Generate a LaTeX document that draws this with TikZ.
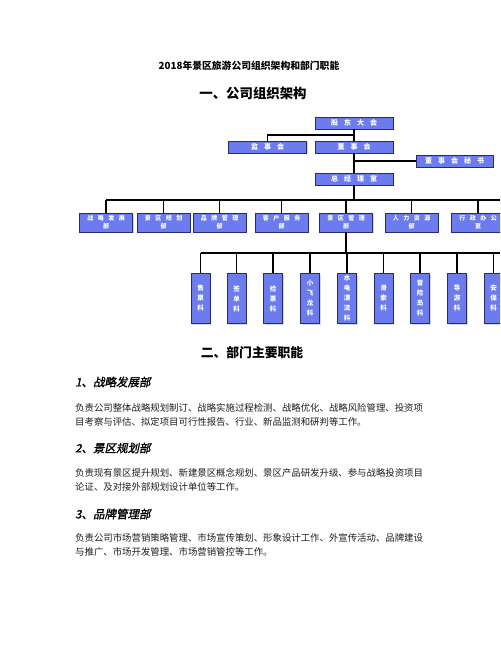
\documentclass[tikz,border=0pt]{standalone}
\usepackage{fontspec}
\setmainfont{Noto Sans CJK SC}
\newfontfamily\headfont[FakeSlant=0.2,FakeBold=1.5]{Noto Sans CJK SC}
\usetikzlibrary{shadows}
\definecolor{boxblue}{RGB}{108,124,238}
\definecolor{boxline}{RGB}{40,44,110}
\definecolor{bodytext}{RGB}{30,30,30}
\newcommand\topgap{\hspace{6pt}}
\newcommand\deptgap{\hspace{4.5pt}}
\begin{document}
\begin{tikzpicture}[x=1pt,y=-1pt,
  orgbox/.style={draw=boxline, fill=boxblue, line width=0.9pt, text=white, inner sep=0pt,
    drop shadow={shadow xshift=1pt,shadow yshift=-1pt,fill=black!30}},
  topbox/.style={orgbox, minimum width=78pt, minimum height=12pt, font=\bfseries\fontsize{7}{8}\selectfont},
  deptbox/.style={orgbox, minimum width=53pt, minimum height=19pt, align=center, font=\bfseries\fontsize{6}{8}\selectfont},
  subbox/.style={orgbox, minimum width=19pt, minimum height=50pt, align=center, font=\bfseries\fontsize{6.5}{10}\selectfont},
  link/.style={line width=1.3pt, black},
  bodyline/.style={anchor=west, inner sep=0pt, text=bodytext, font=\fontsize{9.4}{11}\selectfont},
  headline/.style={anchor=west, inner sep=0pt, text=black, font=\headfont\fontsize{11.5}{13}\selectfont}]
\useasboundingbox (0,0) rectangle (500,647);
\clip (0,0) rectangle (500,647);
\fill[white] (0,0) rectangle (500,647);

% titles
\node[font=\bfseries\fontsize{9.8}{11}\selectfont] (title) at (249,66) {2018年景区旅游公司组织架构和部门职能};
\node[font=\bfseries\fontsize{13.4}{15}\selectfont] (sec1) at (253,93) {一、公司组织架构};

% top level
\node[topbox] (gd) at (354,123) {股\topgap 东\topgap 大\topgap 会};
\node[topbox] (js) at (267.5,147) {监\topgap 事\topgap 会};
\node[topbox] (ds) at (354,147) {董\topgap 事\topgap 会};
\node[topbox, minimum width=77pt] (ms) at (454.5,161) {董\topgap 事\topgap 会\topgap 秘\topgap 书};
\node[topbox] (zj) at (354,179) {总\topgap 经\topgap 理\topgap 室};

\coordinate (j1) at (354,135);
\draw[link] (gd.south) -- (ds.north);
\draw[link] (j1) -| (js.north);
\draw[link] (ds.south) -- (zj.north);
\draw[link] (ds.south |- ms.west) -- (ms.west);

% departments
\node[deptbox] (d1) at (106,222.5) {战\deptgap 略\deptgap 发\deptgap 展\\部};
\node[deptbox] (d2) at (163.5,222.5) {景\deptgap 区\deptgap 规\deptgap 划\\部};
\node[deptbox] (d3) at (219.5,222.5) {品\deptgap 牌\deptgap 管\deptgap 理\\部};
\node[deptbox] (d4) at (281.5,222.5) {客\deptgap 户\deptgap 服\deptgap 务\\部};
\node[deptbox] (d5) at (346,222.5) {景\deptgap 区\deptgap 管\deptgap 理\\部};
\node[deptbox] (d6) at (411.5,222.5) {人\deptgap 力\deptgap 资\deptgap 源\\部};
\node[deptbox] (d7) at (478,222.5) {行\deptgap 政\deptgap 办\deptgap 公\\室};

\coordinate (bus1) at (354,200);
\coordinate (bus1end) at (500,200);
\draw[link] (zj.south) -- (bus1);
\draw[link] (d1.north |- bus1) -- (bus1end);
\foreach \d in {d1,d2,d3,d4,d5,d6,d7}{
  \draw[link] (\d.north |- bus1) -- (\d.north);
}

% sections of 景区管理部
\node[subbox] (s1) at (200.5,298.5) {售\\票\\科};
\node[subbox] (s2) at (236.5,298.5) {签\\单\\科};
\node[subbox] (s3) at (273,298.5) {检\\票\\科};
\node[subbox] (s4) at (310,298.5) {小\\飞\\龙\\科};
\node[subbox] (s5) at (347,298.5) {水\\电\\漂\\流\\科};
\node[subbox] (s6) at (383.5,298.5) {滑\\索\\科};
\node[subbox] (s7) at (420,298.5) {冒\\险\\岛\\科};
\node[subbox] (s8) at (457,298.5) {导\\游\\科};
\node[subbox] (s9) at (493.5,298.5) {安\\保\\科};

\coordinate (bus2) at (346,253);
\coordinate (bus2end) at (500,253);
\draw[link] (d5.south) -- (bus2);
\draw[link] (s1.north |- bus2) -- (bus2end);
\foreach \s in {s1,s2,s3,s4,s5,s6,s7,s8,s9}{
  \draw[link] (\s.north |- bus2) -- (\s.north);
}

% part two
\node[font=\bfseries\fontsize{12.8}{15}\selectfont] (sec2) at (252,353) {二、部门主要职能};

\node[headline] (h1) at (75,382) {1、战略发展部};
\node[bodyline] (p1a) at (75,408) {负责公司整体战略规划制订、战略实施过程检测、战略优化、战略风险管理、投资项};
\node[bodyline] (p1b) at (75,421.5) {目考察与评估、拟定项目可行性报告、行业、新品监测和研判等工作。};

\node[headline] (h2) at (75,448) {2、景区规划部};
\node[bodyline] (p2a) at (75,473) {负责现有景区提升规划、新建景区概念规划、景区产品研发升级、参与战略投资项目};
\node[bodyline] (p2b) at (75,487) {论证、及对接外部规划设计单位等工作。};

\node[headline] (h3) at (75,514) {3、品牌管理部};
\node[bodyline] (p3a) at (75,538) {负责公司市场营销策略管理、市场宣传策划、形象设计工作、外宣传活动、品牌建设};
\node[bodyline] (p3b) at (75,552) {与推广、市场开发管理、市场营销管控等工作。};
\end{tikzpicture}
\end{document}
